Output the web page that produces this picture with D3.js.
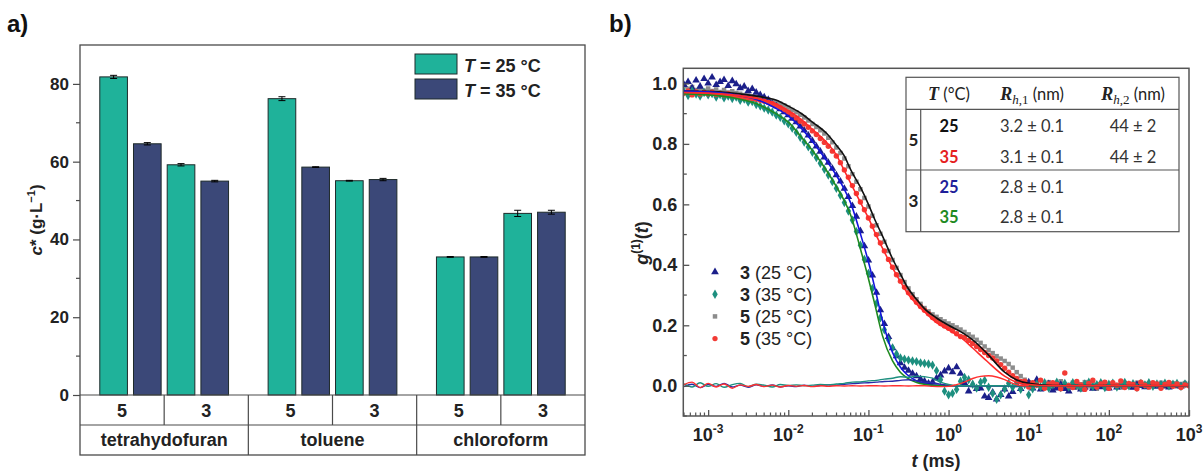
<!DOCTYPE html>
<html><head><meta charset="utf-8">
<script src="https://cdn.jsdelivr.net/npm/d3@7"></script>
<style>body{margin:0;background:#fff;} svg{display:block;font-family:"Liberation Sans",Arial,sans-serif;}</style>
</head><body><svg id="c" width="1203" height="472"></svg>
<script>
// ---------------- Panel a data ----------------
const solvents = ["tetrahydofuran", "toluene", "chloroform"];
const compounds = ["5", "3"];
const tempLabels = ["25 °C", "35 °C"];
// order: thf-5, thf-3, toluene-5, toluene-3, chloroform-5, chloroform-3
const cStar25 = [81.8, 59.2, 76.2, 55.1, 35.5, 46.7];
const cStar35 = [64.6, 55.0, 58.6, 55.4, 35.5, 47.0];
const err25 = [0.4, 0.3, 0.5, 0.1, 0.1, 0.8];
const err35 = [0.3, 0.2, 0.1, 0.3, 0.1, 0.5];
const yTicksA = [0, 20, 40, 60, 80];
const yMinorA = [10, 30, 50, 70];

// ---------------- Panel b data ----------------
const tMs = [5.01e-4,5.62e-4,6.31e-4,7.08e-4,7.94e-4,8.91e-4,
 1.00e-3,1.12e-3,1.26e-3,1.41e-3,1.58e-3,1.78e-3,2.00e-3,2.24e-3,2.51e-3,2.82e-3,3.16e-3,3.55e-3,3.98e-3,4.47e-3,5.01e-3,5.62e-3,6.31e-3,7.08e-3,7.94e-3,8.91e-3,
 0.0100,0.0112,0.0126,0.0141,0.0158,0.0178,0.0200,0.0224,0.0251,0.0282,0.0316,0.0355,0.0398,0.0447,0.0501,0.0562,0.0631,0.0708,0.0794,0.0891,
 0.100,0.112,0.126,0.141,0.158,0.178,0.200,0.224,0.251,0.282,0.316,0.355,0.398,0.447,0.501,0.562,0.631,0.708,0.794,0.891,
 1.00,1.12,1.26,1.41,1.58,1.78,2.00,2.24,2.51,2.82,3.16,3.55,3.98,4.47,5.01,5.62,6.31,7.08,7.94,8.91,
 10.0,11.2,12.6,14.1,15.8,17.8,20.0,22.4,25.1,28.2,31.6,35.5,39.8,44.7,50.1,56.2,63.1,70.8,79.4,89.1,
 100,112,126,141,158,178,200,224,251,282,316,355,398,447,501,562,631,708,794,891,1000];
const g3_25 = [0.995,1.005,0.985,1.010,0.990,1.015,1.000,1.020,0.995,1.005,
 1.012,0.992,1.008,0.998,0.985,0.990,0.975,0.982,0.970,0.962,
 0.955,0.946,0.932,0.925,0.915,0.905,0.895,0.884,0.872,0.858,
 0.845,0.828,0.810,0.792,0.775,0.756,0.738,0.718,0.697,0.676,
 0.652,0.625,0.595,0.560,0.512,0.462,0.415,0.365,0.308,0.250,
 0.205,0.162,0.125,0.098,0.075,0.060,0.050,0.040,0.032,0.022,
 0.015,0.008,0.012,0.025,0.035,0.048,0.058,0.045,0.062,0.040,
 0.010,-0.018,0.002,-0.010,-0.008,-0.035,-0.040,-0.022,-0.045,-0.030,
 -0.012,-0.035,-0.020,0.002,-0.010,0.008,0.012,-0.008,0.020,-0.012,
 -0.004,0.006,-0.015,-0.008,0.004,-0.010,-0.018,-0.005,0.002,-0.012,
 -0.006,0.003,-0.009,0.000,-0.004,0.005,-0.008,0.002,-0.005,0.006,
 -0.002,0.003,-0.006,0.004,0.000,-0.004,0.005,0.001,-0.003,0.004,
 0.000,-0.005,0.003,0.001,-0.002,0.004,0.002];
const g3_35 = [0.972,0.960,0.975,0.965,0.958,0.970,0.962,0.966,0.955,0.963,
 0.952,0.958,0.950,0.955,0.944,0.948,0.938,0.940,0.930,0.925,
 0.918,0.912,0.905,0.895,0.888,0.876,0.866,0.852,0.838,0.822,
 0.806,0.790,0.772,0.755,0.736,0.716,0.697,0.675,0.653,0.630,
 0.606,0.578,0.548,0.510,0.465,0.418,0.372,0.322,0.272,0.225,
 0.185,0.152,0.125,0.105,0.092,0.088,0.085,0.082,0.080,0.076,
 0.074,0.072,0.068,0.050,0.020,-0.018,-0.030,-0.025,-0.012,0.015,
 0.028,0.020,0.005,-0.008,0.012,0.018,-0.005,-0.025,-0.045,-0.030,
 -0.010,0.008,-0.005,0.010,-0.012,0.004,-0.030,-0.010,0.006,-0.004,
 0.010,-0.008,0.003,0.012,-0.006,0.008,-0.004,0.010,0.002,-0.008,
 0.006,0.012,-0.003,0.004,0.010,-0.006,0.005,0.009,-0.004,0.006,
 0.011,0.000,0.007,-0.005,0.008,0.003,0.010,-0.002,0.006,0.004,
 0.009,0.000,0.005,0.008,-0.002,0.006,0.004];
const g5_25 = [0.990,0.982,0.988,0.978,0.985,0.976,0.983,0.975,0.980,0.972,
 0.978,0.970,0.974,0.968,0.966,0.962,0.960,0.958,0.955,0.952,
 0.950,0.946,0.942,0.938,0.933,0.927,0.920,0.912,0.905,0.896,
 0.887,0.877,0.866,0.856,0.845,0.834,0.820,0.805,0.788,0.770,
 0.752,0.726,0.700,0.675,0.650,0.621,0.593,0.562,0.531,0.503,
 0.476,0.446,0.416,0.390,0.366,0.343,0.322,0.303,0.286,0.271,
 0.257,0.246,0.236,0.228,0.220,0.213,0.206,0.200,0.193,0.186,
 0.178,0.170,0.162,0.152,0.142,0.130,0.118,0.108,0.098,0.090,
 0.082,0.072,0.060,0.045,0.032,0.020,0.012,0.002,0.010,-0.006,
 0.004,0.012,-0.004,0.006,0.015,-0.008,0.003,0.010,-0.006,0.005,
 0.012,-0.002,0.008,-0.010,0.004,0.011,-0.003,0.007,0.002,-0.006,
 0.009,0.003,-0.004,0.010,0.001,0.006,-0.005,0.008,0.002,0.010,
 -0.003,0.005,0.008,-0.002,0.006,0.009,0.001];
const g5_35 = [0.968,0.975,0.962,0.972,0.965,0.970,0.966,0.971,0.963,0.967,
 0.962,0.966,0.960,0.958,0.956,0.954,0.952,0.950,0.948,0.944,
 0.941,0.937,0.933,0.926,0.920,0.912,0.905,0.896,0.886,0.875,
 0.866,0.855,0.843,0.831,0.818,0.805,0.792,0.776,0.760,0.738,
 0.714,0.690,0.662,0.636,0.608,0.582,0.555,0.528,0.500,0.472,
 0.446,0.418,0.392,0.367,0.346,0.326,0.308,0.292,0.276,0.262,
 0.250,0.238,0.226,0.216,0.206,0.198,0.190,0.182,0.172,0.163,
 0.160,0.150,0.140,0.130,0.120,0.110,0.100,0.092,0.082,0.070,
 0.058,0.045,0.033,0.024,0.014,0.015,-0.004,0.010,0.002,0.018,
 -0.008,0.006,0.010,0.004,-0.010,0.042,0.000,-0.006,0.014,0.003,
 -0.012,0.008,0.018,-0.004,0.006,0.012,-0.008,0.010,0.002,0.016,
 -0.006,0.008,0.004,-0.010,0.012,0.002,-0.004,0.010,0.006,-0.008,
 0.004,0.011,-0.002,0.006,-0.006,0.003,0.000];

const fitT = [5e-4,1e-3,2e-3,4e-3,7e-3,0.01,0.015,0.02,0.03,0.04,0.05,0.06,0.08,0.1,0.12,0.15,0.2,0.25,0.3,0.4,0.5,0.7,1,1.5,2,3,5,7,10,20,1000];
const fit3_25 = [0.975,0.972,0.964,0.947,0.918,0.893,0.848,0.808,0.745,0.695,0.650,0.605,0.500,0.410,0.325,0.215,0.110,0.062,0.038,0.016,0.007,0.002,0,0,0,0,0,0,0,0,0];
const fit3_35 = [0.965,0.962,0.953,0.933,0.900,0.872,0.818,0.778,0.712,0.658,0.612,0.565,0.450,0.355,0.270,0.165,0.082,0.045,0.027,0.011,0.005,0.001,0,0,0,0,0,0,0,0,0];
const fit5_25 = [0.975,0.974,0.968,0.958,0.945,0.925,0.898,0.872,0.835,0.795,0.760,0.715,0.655,0.600,0.550,0.495,0.420,0.370,0.330,0.285,0.255,0.225,0.200,0.175,0.152,0.108,0.045,0.020,0.008,0.001,0];
const fit5_35 = [0.970,0.968,0.962,0.950,0.933,0.910,0.878,0.848,0.805,0.762,0.712,0.670,0.605,0.555,0.508,0.455,0.390,0.345,0.310,0.270,0.245,0.210,0.185,0.155,0.125,0.082,0.032,0.012,0.004,0,0];

const resT = [5.01e-4,6.31e-4,7.94e-4,1.00e-3,1.26e-3,1.58e-3,2.00e-3,2.51e-3,3.16e-3,3.98e-3,5.01e-3,6.31e-3,7.94e-3,
 0.0100,0.0126,0.0158,0.0200,0.0251,0.0316,0.0398,0.0501,0.0631,0.0794,0.100,0.126,0.158,0.200,0.251,0.316,0.398,0.501,0.631,0.794,
 1.00,1.26,1.58,2.00,2.51,3.16,3.98,5.01,6.31,7.94,10.0];
const res5_35 = [0.004,0.012,-0.006,0.008,-0.004,0.006,-0.008,0.003,-0.002,0.004,
 -0.003,0.002,-0.004,0.001,-0.002,0.001,-0.003,0.000,-0.002,0.000,
 -0.001,0.000,-0.001,0.000,0.000,-0.001,0.000,0.000,-0.001,0.000,
 0.000,-0.002,-0.003,-0.002,0.004,0.012,0.024,0.031,0.033,0.029,
 0.020,0.008,0.001,0.000];
const res3_35 = [0.006,-0.004,0.010,-0.002,0.007,-0.005,0.004,0.008,-0.003,0.005,
 0.002,-0.004,0.004,0.001,0.003,0.000,0.002,0.004,0.003,0.006,
 0.008,0.012,0.013,0.016,0.018,0.022,0.025,0.030,0.028,0.032,
 0.030,0.025,0.012,0.004,0.000,0.000,0.000,0.000,0.000,0.000,
 0.000,0.000,0.000,0.000];
const res3_25 = [-0.003,0.005,-0.006,0.004,-0.002,0.008,-0.004,0.002,-0.005,0.003,
 -0.002,0.003,-0.004,0.000,-0.003,0.002,-0.002,0.001,0.003,0.002,
 0.005,0.007,0.009,0.010,0.012,0.014,0.015,0.018,0.020,0.016,
 0.012,0.010,0.005,0.002,0.000,0.000,0.000,0.000,0.000,0.000,
 0.000,0.000,0.000,0.000];

const yTicksB = [0, 0.2, 0.4, 0.6, 0.8, 1.0];
const yMinorB = [-0.1, 0.1, 0.3, 0.5, 0.7, 0.9];
const xTicksB = [1e-3, 1e-2, 1e-1, 1e0, 1e1, 1e2, 1e3];
const xTickExp = ["-3", "-2", "-1", "0", "1", "2", "3"];
const legendB = [["3", " (25 °C)"], ["3", " (35 °C)"], ["5", " (25 °C)"], ["5", " (35 °C)"]];
const tabComp = ["5", "3"];
const tabT = ["25", "35", "25", "35"];
const tabR1 = ["3.2 ± 0.1", "3.1 ± 0.1", "2.8 ± 0.1", "2.8 ± 0.1"];
const tabR2 = ["44 ± 2", "44 ± 2", "", ""];

// ---------------- Drawing ----------------
const svg = d3.select("#c");
const AX = "#4a4a4a";

// ===== Panel a =====
const aL = 80, aR = 585, aT = 45, aB = 395, aR1 = 425, aR2 = 455;
const barCol = ["#1fb29a", "#3b4878"];
const yA = d3.scaleLinear().domain([0, 90]).range([aB, aT]);
const xS = d3.scaleBand().domain(solvents).range([aL, aR]);
const barKeys = ["5|0", "5|1", "3|0", "3|1"];
const xBar = d3.scaleBand().domain(barKeys).range([0, xS.bandwidth()]).paddingInner(0.18).paddingOuter(0.587);

const bars = [];
solvents.forEach((s, i) => compounds.forEach((c, j) => {
  const idx = i * 2 + j;
  bars.push({ s, k: c + "|0", v: cStar25[idx], e: err25[idx], t: 0 });
  bars.push({ s, k: c + "|1", v: cStar35[idx], e: err35[idx], t: 1 });
}));

const gA = svg.append("g");
gA.selectAll("rect.bar").data(bars).join("rect").attr("class", "bar")
  .attr("x", d => xS(d.s) + xBar(d.k)).attr("width", xBar.bandwidth())
  .attr("y", d => yA(d.v)).attr("height", d => yA(0) - yA(d.v))
  .attr("fill", d => barCol[d.t]).attr("stroke", "#1e2a2a").attr("stroke-width", 1);
const eb = gA.selectAll("g.eb").data(bars).join("g").attr("class", "eb")
  .attr("transform", d => `translate(${xS(d.s) + xBar(d.k) + xBar.bandwidth() / 2},0)`);
eb.append("line").attr("y1", d => yA(d.v + d.e)).attr("y2", d => yA(d.v - d.e)).attr("stroke", "#000");
eb.append("line").attr("x1", -3.5).attr("x2", 3.5).attr("y1", d => yA(d.v + d.e)).attr("y2", d => yA(d.v + d.e)).attr("stroke", "#000");
eb.append("line").attr("x1", -3.5).attr("x2", 3.5).attr("y1", d => yA(d.v - d.e)).attr("y2", d => yA(d.v - d.e)).attr("stroke", "#000");

gA.append("rect").attr("x", aL).attr("y", aT).attr("width", aR - aL).attr("height", aR2 - aT)
  .attr("fill", "none").attr("stroke", AX).attr("stroke-width", 1.3);
[aB, aR1].forEach(y => gA.append("line").attr("x1", aL).attr("x2", aR).attr("y1", y).attr("y2", y).attr("stroke", AX).attr("stroke-width", 1.2));
solvents.forEach((s, i) => {
  const x0 = xS(s), bw = xS.bandwidth();
  gA.append("line").attr("x1", x0 + bw / 2).attr("x2", x0 + bw / 2).attr("y1", aB).attr("y2", aR1).attr("stroke", AX).attr("stroke-width", 1.2);
  if (i > 0) gA.append("line").attr("x1", x0).attr("x2", x0).attr("y1", aB).attr("y2", aR2).attr("stroke", AX).attr("stroke-width", 1.2);
  compounds.forEach((c, j) => gA.append("text").attr("x", x0 + bw * (j * 2 + 1) / 4).attr("y", 416.5)
    .attr("text-anchor", "middle").attr("font-weight", "bold").attr("font-size", 18).attr("fill", "#222").text(c));
  gA.append("text").attr("x", x0 + bw / 2).attr("y", 446).attr("text-anchor", "middle")
    .attr("font-weight", "bold").attr("font-size", 18).attr("fill", "#222").text(s);
});

const yAxA = gA.append("g").attr("transform", `translate(${aL},0)`)
  .call(d3.axisLeft(yA).tickValues(yTicksA).tickSize(7).tickPadding(4));
yAxA.select(".domain").remove();
yAxA.selectAll("line").attr("stroke", AX).attr("stroke-width", 1.2);
yAxA.selectAll("text").attr("font-size", 17).attr("font-weight", "bold").attr("fill", "#222").attr("font-family", "Liberation Sans, Arial, sans-serif");
gA.selectAll("line.minA").data(yMinorA).join("line").attr("class", "minA")
  .attr("x1", aL - 4).attr("x2", aL).attr("y1", d => yA(d)).attr("y2", d => yA(d)).attr("stroke", AX).attr("stroke-width", 1.2);

const ytA = gA.append("text").attr("transform", "translate(42,220) rotate(-90)").attr("text-anchor", "middle")
  .attr("font-size", 17).attr("font-weight", "bold").attr("fill", "#222");
ytA.append("tspan").attr("font-style", "italic").text("c");
ytA.append("tspan").text("* (g·L");
ytA.append("tspan").attr("font-size", 11).attr("dy", -7).text("−1");
ytA.append("tspan").attr("dy", 7).text(")");

tempLabels.forEach((lab, i) => {
  const y0 = 54 + i * 25;
  gA.append("rect").attr("x", 415).attr("y", y0).attr("width", 42).attr("height", 20)
    .attr("fill", barCol[i]).attr("stroke", "#1e2a2a").attr("stroke-width", 1);
  const tx = gA.append("text").attr("x", 464).attr("y", y0 + 17.5).attr("font-size", 18).attr("font-weight", "bold").attr("fill", "#222");
  tx.append("tspan").attr("font-style", "italic").text("T");
  tx.append("tspan").text(" = " + lab);
});
svg.append("text").attr("x", 7).attr("y", 32).attr("font-size", 24).attr("font-weight", "bold").attr("fill", "#111").text("a)");

// ===== Panel b =====
const bL = 683.3, bR = 1189, bT = 68.3, bB = 416;
const xB = d3.scaleLog().domain([4.9e-4, 1000]).range([bL, bR]);
const yB = d3.scaleLinear().domain([-0.1, 1.05]).range([bB, bT]);
const gB = svg.append("g");
gB.append("clipPath").attr("id", "clipB").append("rect").attr("x", bL).attr("y", bT).attr("width", bR - bL).attr("height", bB - bT);
const plotB = gB.append("g").attr("clip-path", "url(#clipB)");

const series = [
  { v: g5_25, sym: d3.symbolSquare, size: 20, col: "#8c8c8c" },
  { v: g3_25, sym: d3.symbolTriangle, size: 25, col: "#1b1f8a" },
  { v: g3_35, sym: d3.symbolDiamond, size: 25, col: "#1d8f7f" },
  { v: g5_35, sym: d3.symbolCircle, size: 23, col: "#f23b35" }
];
series.forEach(s => {
  plotB.append("g").selectAll("path").data(tMs.map((t, i) => [t, s.v[i]])).join("path")
    .attr("transform", d => `translate(${xB(d[0])},${yB(d[1])})`)
    .attr("d", d3.symbol().type(s.sym).size(s.size)).attr("fill", s.col);
});
const line = d3.line().x(d => xB(d[0])).y(d => yB(d[1])).curve(d3.curveMonotoneX);
[[fit5_25, "#111"], [fit3_25, "#1414dc"], [fit3_35, "#1f8a1f"], [fit5_35, "#ff2a2a"]].forEach(([f, c]) => {
  plotB.append("path").attr("d", line(fitT.map((t, i) => [t, f[i]]))).attr("fill", "none").attr("stroke", c).attr("stroke-width", 1.6);
});
[[res3_25, "#2a2aa8"], [res3_35, "#1d8f7f"], [res5_35, "#ff3030"]].forEach(([f, c]) => {
  plotB.append("path").attr("d", line(resT.map((t, i) => [t, f[i]]))).attr("fill", "none").attr("stroke", c).attr("stroke-width", 1.4);
});

gB.append("rect").attr("x", bL).attr("y", bT).attr("width", bR - bL).attr("height", bB - bT)
  .attr("fill", "none").attr("stroke", "#555").attr("stroke-width", 1.5);
const yAxB = gB.append("g").attr("transform", `translate(${bL},0)`)
  .call(d3.axisLeft(yB).tickValues(yTicksB).tickSize(-6).tickPadding(6).tickFormat(d3.format(".1f")));
yAxB.select(".domain").remove();
yAxB.selectAll("line").attr("stroke", "#555").attr("stroke-width", 1.3);
yAxB.selectAll("text").attr("font-size", 18).attr("font-weight", "bold").attr("fill", "#222").attr("font-family", "Liberation Sans, Arial, sans-serif");
gB.selectAll("line.minBy").data(yMinorB).join("line").attr("class", "minBy")
  .attr("x1", bL).attr("x2", bL + 3.5).attr("y1", d => yB(d)).attr("y2", d => yB(d)).attr("stroke", "#555").attr("stroke-width", 1.3);
const xAxB = gB.append("g").attr("transform", `translate(0,${bB})`)
  .call(d3.axisBottom(xB).tickValues(xTicksB).tickSize(-6).tickFormat(""));
xAxB.select(".domain").remove();
xAxB.selectAll("line").attr("stroke", "#555").attr("stroke-width", 1.3);
const minorX = xB.ticks().filter(d => { const m = d / Math.pow(10, Math.floor(Math.log10(d) + 1e-9)); return Math.round(m) !== 1; });
gB.selectAll("line.minBx").data(minorX).join("line").attr("class", "minBx")
  .attr("x1", d => xB(d)).attr("x2", d => xB(d)).attr("y1", bB).attr("y2", bB - 3.5).attr("stroke", "#555").attr("stroke-width", 1.2);
xTicksB.forEach((v, i) => {
  const tx = gB.append("text").attr("x", xB(v)).attr("y", 441).attr("text-anchor", "middle")
    .attr("font-size", 18).attr("font-weight", "bold").attr("fill", "#222");
  tx.append("tspan").text("10");
  tx.append("tspan").attr("font-size", 12).attr("dy", -8).text(xTickExp[i]);
});
const xtB = gB.append("text").attr("x", 936).attr("y", 467).attr("text-anchor", "middle").attr("font-size", 18).attr("font-weight", "bold").attr("fill", "#222");
xtB.append("tspan").attr("font-style", "italic").text("t");
xtB.append("tspan").text(" (ms)");
const ytB = gB.append("text").attr("transform", "translate(648,243) rotate(-90)").attr("text-anchor", "middle").attr("font-size", 18).attr("font-weight", "bold").attr("fill", "#222");
ytB.append("tspan").attr("font-style", "italic").text("g");
ytB.append("tspan").attr("font-size", 12).attr("dy", -8).text("(1)");
ytB.append("tspan").attr("dy", 8).text("(");
ytB.append("tspan").attr("font-style", "italic").text("t");
ytB.append("tspan").text(")");

const legSym = [[d3.symbolTriangle, 26, "#1b1f8a"], [d3.symbolDiamond, 26, "#1d8f7f"], [d3.symbolSquare, 20, "#8c8c8c"], [d3.symbolCircle, 22, "#f23b35"]];
legendB.forEach((l, i) => {
  const cy = 272 + i * 22.2;
  gB.append("path").attr("transform", `translate(715,${cy})`).attr("d", d3.symbol().type(legSym[i][0]).size(legSym[i][1])).attr("fill", legSym[i][2]);
  const tx = gB.append("text").attr("x", 740).attr("y", cy + 6.5).attr("font-size", 18).attr("fill", "#222");
  tx.append("tspan").attr("font-weight", "bold").text(l[0]);
  tx.append("tspan").text(l[1]);
});

const tg = gB.append("g").attr("font-family", "Lato, 'Open Sans', sans-serif").attr("fill", "#333");
const tL = 906, tR = 1179, tT = 77.3, tH = 109.3, tM = 170, tBt = 231.7, tV = 920.7;
tg.append("rect").attr("x", tL).attr("y", tT).attr("width", tR - tL).attr("height", tBt - tT).attr("fill", "#fff").attr("stroke", "#555").attr("stroke-width", 1.2);
[tH, tM].forEach(y => tg.append("line").attr("x1", tL).attr("x2", tR).attr("y1", y).attr("y2", y).attr("stroke", "#555").attr("stroke-width", 1.2));
tg.append("line").attr("x1", tV).attr("x2", tV).attr("y1", tH).attr("y2", tBt).attr("stroke", "#555").attr("stroke-width", 1.2);
const colX = [949, 1032, 1133];
const serif = "'Liberation Serif', 'DejaVu Serif', serif";
const h1 = tg.append("text").attr("x", colX[0]).attr("y", 100).attr("text-anchor", "middle").attr("font-size", 16.5).attr("fill", "#222");
h1.append("tspan").attr("font-family", serif).attr("font-style", "italic").attr("font-weight", "bold").attr("font-size", 18).text("T");
h1.append("tspan").text(" (°C)");
[1, 2].forEach(k => {
  const h = tg.append("text").attr("x", colX[k]).attr("y", 100).attr("text-anchor", "middle").attr("font-size", 16.5).attr("fill", "#222");
  h.append("tspan").attr("font-family", serif).attr("font-style", "italic").attr("font-weight", "bold").attr("font-size", 18).text("R");
  h.append("tspan").attr("font-family", serif).attr("font-style", "italic").attr("font-size", 13).attr("dy", 4).text("h");
  h.append("tspan").attr("font-family", serif).attr("font-size", 13).text("," + k);
  h.append("tspan").attr("dy", -4).text(" (nm)");
});
const rowY = [125.7, 156.7, 187.3, 216.7];
const tCol = ["#111", "#e51f1f", "#1f1f9a", "#1f8a1f"];
tabT.forEach((t, i) => {
  tg.append("text").attr("x", colX[0]).attr("y", rowY[i] + 6).attr("text-anchor", "middle").attr("font-size", 16.5).attr("font-weight", "bold").attr("fill", tCol[i]).text(t);
  tg.append("text").attr("x", colX[1]).attr("y", rowY[i] + 6).attr("text-anchor", "middle").attr("font-size", 16.5).text(tabR1[i]);
  if (tabR2[i]) tg.append("text").attr("x", colX[2]).attr("y", rowY[i] + 6).attr("text-anchor", "middle").attr("font-size", 16.5).text(tabR2[i]);
});
tabComp.forEach((c, j) => {
  tg.append("text").attr("x", 913.5).attr("y", (j === 0 ? (tH + tM) / 2 : (tM + tBt) / 2) + 6).attr("text-anchor", "middle")
    .attr("font-size", 17).attr("font-weight", "bold").attr("fill", "#222").text(c);
});

svg.append("text").attr("x", 609).attr("y", 32).attr("font-size", 24).attr("font-weight", "bold").attr("fill", "#111").text("b)");
</script>
</body></html>
